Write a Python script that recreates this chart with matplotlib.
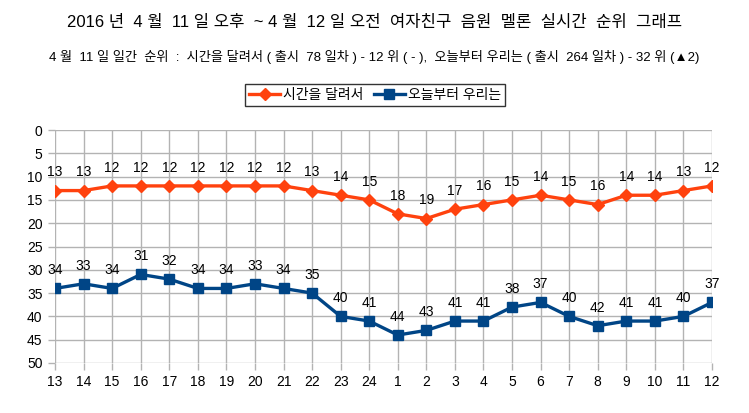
import matplotlib
matplotlib.use('Agg')
import matplotlib.pyplot as plt

plt.rcParams['font.family'] = ['Liberation Sans', 'Noto Sans CJK KR', 'DejaVu Sans']

# hour labels (11th afternoon -> 12th morning)
hours = ['13', '14', '15', '16', '17', '18', '19', '20', '21', '22', '23', '24',
         '1', '2', '3', '4', '5', '6', '7', '8', '9', '10', '11', '12']
rank_run = [13, 13, 12, 12, 12, 12, 12, 12, 12, 13, 14, 15,
            18, 19, 17, 16, 15, 14, 15, 16, 14, 14, 13, 12]
rank_today = [34, 33, 34, 31, 32, 34, 34, 33, 34, 35, 40, 41,
              44, 43, 41, 41, 38, 37, 40, 42, 41, 41, 40, 37]
name_run = '시간을 달려서'
name_today = '오늘부터 우리는'

title = '2016 년  4 월  11 일 오후  ~ 4 월  12 일 오전  여자친구  음원  멜론  실시간  순위  그래프'
subtitle = ('4 월  11 일 일간  순위  :  시간을 달려서 ( 출시  78 일차 ) - 12 위 ( - ),  '
            '오늘부터 우리는 ( 출시  264 일차 ) - 32 위 (▲2)')

orange = '#ff420e'
blue = '#004586'

fig = plt.figure(figsize=(7.49, 4.13), dpi=100)
ax = fig.add_axes([55 / 749, 1 - 363 / 413, (712 - 55) / 749, (363 - 130) / 413])

x = list(range(len(hours)))
ax.plot(x, rank_run, color=orange, lw=2.4, marker='D', ms=6.5, label=name_run)
ax.plot(x, rank_today, color=blue, lw=2.4, marker='s', ms=7, label=name_today)

for xi, v in zip(x, rank_run):
    ax.annotate(str(v), (xi, v), xytext=(0, 8), textcoords='offset points',
                ha='center', va='bottom', fontsize=10)
for xi, v in zip(x, rank_today):
    ax.annotate(str(v), (xi, v), xytext=(0, 8), textcoords='offset points',
                ha='center', va='bottom', fontsize=10)

ax.set_xlim(0, len(hours) - 1)
ax.set_ylim(50, 0)
ax.set_yticks(range(0, 51, 5))
ax.set_xticks(x)
ax.set_xticklabels(hours)
ax.tick_params(axis='both', labelsize=10, color='#b3b3b3', length=5, width=1, pad=4)
ax.grid(True, color='#b3b3b3', lw=1)
ax.set_axisbelow(True)
for s in ax.spines.values():
    s.set_visible(False)

fig.text(0.5, 1 - 22 / 413, title, ha='center', va='center', fontsize=12)
fig.text(0.5, 1 - 57 / 413, subtitle, ha='center', va='center', fontsize=9.5)

leg = fig.legend(loc='center', bbox_to_anchor=(375 / 749, 1 - 95 / 413), ncol=2,
                 fontsize=10, frameon=True, fancybox=False, handlelength=2.2,
                 handletextpad=0.2, columnspacing=0.8, borderpad=0.3)
leg.get_frame().set_edgecolor('black')
leg.get_frame().set_linewidth(1)

fig.savefig('out.png', dpi=100)
